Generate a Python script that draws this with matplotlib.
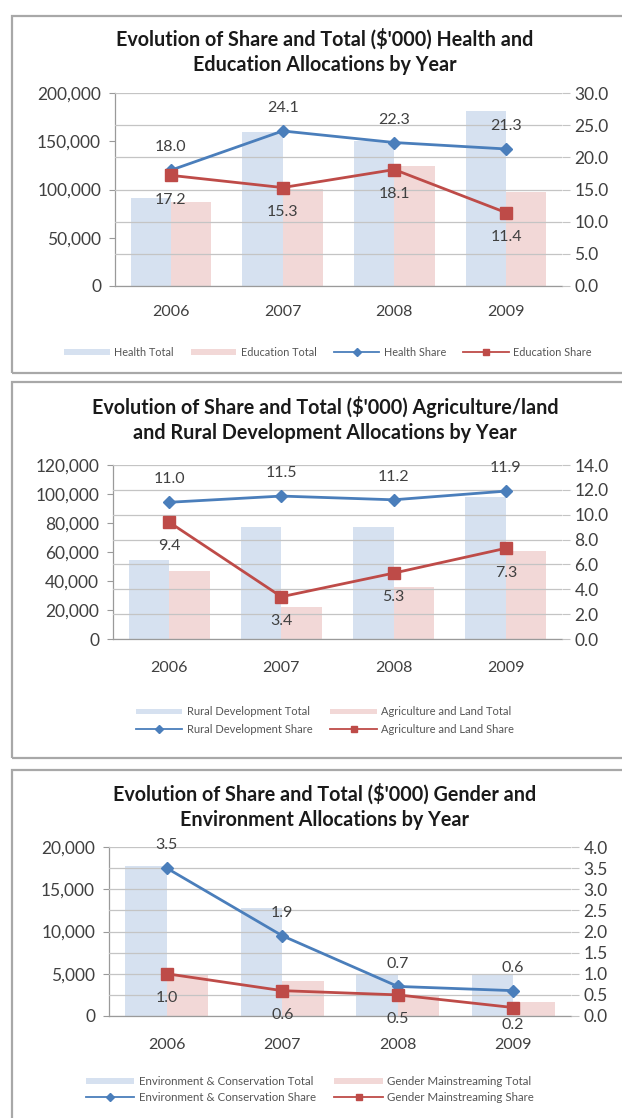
import matplotlib
matplotlib.use('Agg')
import matplotlib.pyplot as plt
import numpy as np
from matplotlib.patches import Rectangle, Patch
from matplotlib.lines import Line2D
from matplotlib.ticker import FuncFormatter, MultipleLocator

plt.rcParams['font.family'] = ['Lato', 'DejaVu Sans']

years = ['2006', '2007', '2008', '2009']

health_total = [91000, 160000, 150000, 181000]
education_total = [87000, 101000, 124000, 97000]
health_share = [18.0, 24.1, 22.3, 21.3]
education_share = [17.2, 15.3, 18.1, 11.4]

rural_total = [54500, 77000, 77000, 98000]
agri_total = [47000, 22000, 36000, 61000]
rural_share = [11.0, 11.5, 11.2, 11.9]
agri_share = [9.4, 3.4, 5.3, 7.3]

env_total = [17800, 12800, 4800, 4800]
gender_total = [4900, 4200, 2500, 1600]
env_share = [3.5, 1.9, 0.7, 0.6]
gender_share = [1.0, 0.6, 0.5, 0.2]

W, H = 622, 1118
fig = plt.figure(figsize=(W / 100, H / 100), dpi=100)

BLUE_BAR = '#d6e1f0'
PINK_BAR = '#f2d8d7'
BLUE_LINE = '#4a7ebb'
RED_LINE = '#be4b48'
GRID = '#c4c4c4'
TXT = '#404040'
TICK_FS = 12.5
XT_FS = 11.5
LBL_FS = 11.5


def fx(px):
    return px / W


def fy(py):
    return 1 - py / H


def box(top, bottom, left=12, right=640):
    r = Rectangle((fx(left), fy(bottom)), fx(right - left), (bottom - top) / H,
                  transform=fig.transFigure, fill=False, edgecolor='#a8a8a8',
                  linewidth=1.6, zorder=0)
    fig.patches.append(r)


def panel(left, right, top, bottom, title, title_y, totals, shares, names,
          lmax, lstep, rmax, rstep, xpad, legend_y, legend_x, ncol, legend_fs,
          labelspacing, low_offsets):
    ax = fig.add_axes([fx(left), fy(bottom), fx(right - left), (bottom - top) / H])
    x = np.arange(len(years))
    w = 0.36
    ax.bar(x - w / 2, totals[0], width=w, color=BLUE_BAR, zorder=1, label=names[0])
    ax.bar(x + w / 2, totals[1], width=w, color=PINK_BAR, zorder=1, label=names[1])
    ax.set_xlim(-0.5, len(years) - 0.5)
    ax.set_ylim(0, lmax)
    ax.yaxis.set_major_locator(MultipleLocator(lstep))
    ax.yaxis.set_major_formatter(FuncFormatter(lambda v, p: f'{v:,.0f}'))
    ax.set_xticks(x)
    ax.set_xticklabels(years)
    ax.tick_params(axis='x', length=0, pad=xpad, labelsize=XT_FS, labelcolor=TXT)
    ax.tick_params(axis='y', length=4, color='#9a9a9a', pad=6, labelsize=TICK_FS,
                   labelcolor=TXT)
    for s in ['top', 'right']:
        ax.spines[s].set_visible(False)
    for s in ['left', 'bottom']:
        ax.spines[s].set_color('#9a9a9a')
        ax.spines[s].set_linewidth(0.9)

    ax2 = ax.twinx()
    ax2.set_ylim(0, rmax)
    ax2.yaxis.set_major_locator(MultipleLocator(rstep))
    ax2.yaxis.set_major_formatter(FuncFormatter(lambda v, p: f'{v:.1f}'))
    ax2.tick_params(axis='y', length=6, color=GRID, pad=3, labelsize=TICK_FS,
                    labelcolor=TXT)
    ax2.grid(axis='y', color=GRID, linewidth=0.9, zorder=0)
    for s in ax2.spines.values():
        s.set_visible(False)
    ax2.plot(x, shares[0], color=BLUE_LINE, linewidth=2, marker='D', markersize=6,
             zorder=3)
    ax2.plot(x, shares[1], color=RED_LINE, linewidth=2, marker='s', markersize=8.5,
             zorder=3)
    for xi, v in zip(x, shares[0]):
        ax2.annotate(f'{v:.1f}', (xi, v), xytext=(0, 16.5), textcoords='offset points',
                     ha='center', va='center', fontsize=LBL_FS, color=TXT, zorder=4)
    for xi, v, off in zip(x, shares[1], low_offsets):
        ax2.annotate(f'{v:.1f}', (xi, v), xytext=(0, off), textcoords='offset points',
                     ha='center', va='center', fontsize=LBL_FS, color=TXT, zorder=4)

    fig.text(fx(325), fy(title_y), title, ha='center', va='center',
             fontsize=14.2, fontweight='bold', color='#1a1a1a', linespacing=1.3)

    handles = [Patch(facecolor=BLUE_BAR, edgecolor='none', label=names[0]),
               Patch(facecolor=PINK_BAR, edgecolor='none', label=names[1]),
               Line2D([], [], color=BLUE_LINE, marker='D', markersize=4,
                      linewidth=1.3, label=names[2]),
               Line2D([], [], color=RED_LINE, marker='s', markersize=5,
                      linewidth=1.3, label=names[3])]
    if ncol == 2:
        order = [0, 2, 1, 3]
    else:
        order = [0, 1, 2, 3]
    fig.legend([handles[i] for i in order], [names[i] for i in order],
               loc='center', bbox_to_anchor=(fx(legend_x), fy(legend_y)),
               ncol=ncol, frameon=False, fontsize=legend_fs, handlelength=4.2,
               handleheight=0.45, columnspacing=1.6, handletextpad=0.4,
               labelspacing=labelspacing, labelcolor='#555555')
    return ax, ax2


box(16, 373)
box(382, 758)
box(770, 1135)

panel(115, 562, 93, 286,
      "Evolution of Share and Total ($'000) Health and\nEducation Allocations by Year",
      51.5, (health_total, education_total), (health_share, education_share),
      ['Health Total', 'Education Total', 'Health Share', 'Education Share'],
      200000, 50000, 30.0, 5.0, 14, 352, 328, 4, 7.8, 0.6,
      [-17.5, -17.5, -17.5, -17.5])

panel(113, 562, 465, 639,
      "Evolution of Share and Total ($'000) Agriculture/land\nand Rural Development Allocations by Year",
      419.5, (rural_total, agri_total), (rural_share, agri_share),
      ['Rural Development Total', 'Agriculture and Land Total',
       'Rural Development Share', 'Agriculture and Land Share'],
      120000, 20000, 14.0, 2.0, 16, 720.5, 325, 2, 8.0, 0.55,
      [-17.5, -17.5, -17.5, -17.5])

panel(109, 571, 847, 1016,
      "Evolution of Share and Total ($'000) Gender and\nEnvironment Allocations by Year",
      806.5, (env_total, gender_total), (env_share, gender_share),
      ['Environment & Conservation Total', 'Gender Mainstreaming Total',
       'Environment & Conservation Share', 'Gender Mainstreaming Share'],
      20000, 5000, 4.0, 0.5, 16, 1089.5, 310, 2, 8.3, 0.4,
      [-17.5, -17.5, -17.5, -12.5])

fig.savefig('out.png', dpi=100)
